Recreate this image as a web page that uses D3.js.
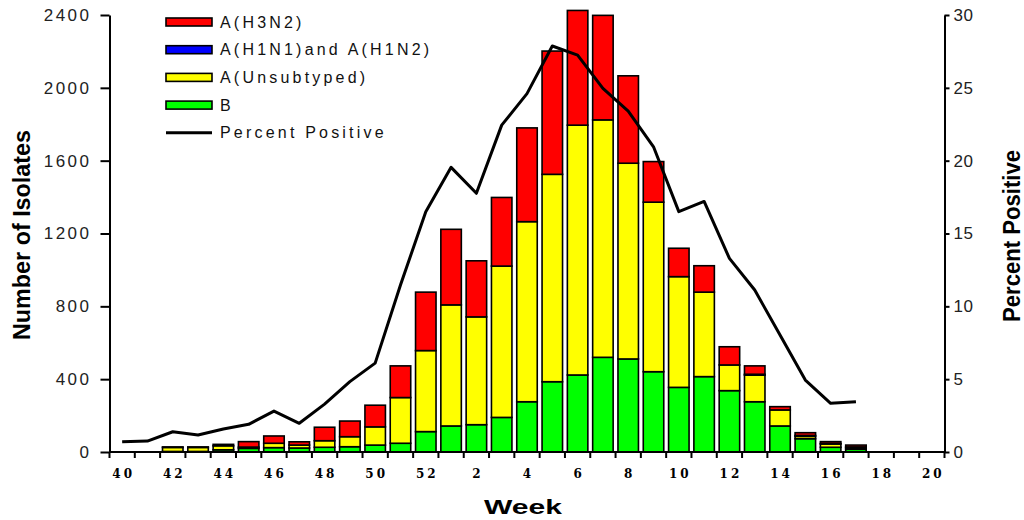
<!DOCTYPE html>
<html>
<head>
<meta charset="utf-8">
<script src="https://cdn.jsdelivr.net/npm/d3@7"></script>
<style>
  body { margin: 0; background: #fff; }
  #chart { width: 1024px; height: 520px; }
</style>
</head>
<body>
<div id="chart"></div>
<script>
// Weekly isolates by type + percent positive

const weeks = [40, 41, 42, 43, 44, 45, 46, 47, 48, 49, 50, 51, 52,
               1, 2, 3, 4, 5, 6, 7, 8, 9, 10, 11, 12, 13, 14, 15, 16, 17, 18, 19, 20];

const h3n2 =    [0, 0, 3, 3, 8, 30, 40, 18, 74, 86, 119, 174, 321,
                 415, 308, 377, 515, 677, 630, 574, 480, 223, 156, 145, 100, 46, 18, 15, 10, 10, 0, 0, 0];
const h1n1 =    [0, 0, 0, 0, 0, 0, 0, 0, 0, 0, 0, 0, 0,
                 0, 0, 0, 0, 0, 0, 0, 0, 0, 0, 0, 0, 5, 0, 5, 3, 5, 0, 0, 0];
const unsub =   [0, 0, 22, 22, 22, 7, 24, 16, 36, 55, 100, 251, 445,
                 665, 592, 831, 989, 1139, 1372, 1304, 1075, 931, 608, 464, 141, 146, 88, 13, 18, 8, 0, 0, 0];
const typeB =   [0, 0, 3, 3, 12, 20, 24, 22, 26, 29, 38, 48, 112,
                 143, 150, 190, 276, 386, 423, 520, 511, 441, 355, 414, 337, 276, 143, 73, 26, 15, 0, 0, 0];
const pctPositive = [0.7, 0.75, 1.39, 1.17, 1.58, 1.9, 2.81, 1.97, 3.29, 4.83, 6.1, 11.46, 16.5,
                 19.54, 17.76, 22.44, 24.6, 27.87, 27.25, 24.96, 23.4, 20.95, 16.5, 17.2, 13.29, 11.12, 8.03, 4.94, 3.34, 3.45, null, null, null];

const leftTicks = [0, 400, 800, 1200, 1600, 2000, 2400];
const rightTicks = [0, 5, 10, 15, 20, 25, 30];

const seriesNames = ["B", "A(Unsubtyped)", "A(H1N1) and A(H1N2)", "A(H3N2)"];
const seriesColors = ["#00ff00", "#ffff00", "#0000ff", "#ff0000"];

const rows = weeks.map((w, i) => ({
    key: i,
    week: w,
    "B": typeB[i],
    "A(Unsubtyped)": unsub[i],
    "A(H1N1) and A(H1N2)": h1n1[i],
    "A(H3N2)": h3n2[i]
}));

const plotLeft = 109.5, plotRight = 944.5, plotTop = 15, plotBottom = 452;

const svg = d3.select("#chart").append("svg")
    .attr("width", 1024)
    .attr("height", 520)
    .style("font-family", "Liberation Sans, Arial, sans-serif");

const x = d3.scaleBand()
    .domain(weeks.map((w, i) => i))
    .range([plotLeft, plotRight])
    .paddingInner(0.19)
    .paddingOuter(0.095);

const y = d3.scaleLinear().domain([0, 2400]).range([plotBottom, plotTop]);
const y2 = d3.scaleLinear().domain([0, 30]).range([plotBottom, plotTop]);

const color = d3.scaleOrdinal().domain(seriesNames).range(seriesColors);

const stacked = d3.stack().keys(seriesNames)(rows);

// bars
svg.append("g")
  .selectAll("g")
  .data(stacked)
  .join("g")
    .attr("fill", d => color(d.key))
  .selectAll("rect")
  .data(d => d.filter(p => p[1] - p[0] > 0))
  .join("rect")
    .attr("x", d => x(d.data.key))
    .attr("width", x.bandwidth())
    .attr("y", d => y(d[1]))
    .attr("height", d => y(d[0]) - y(d[1]))
    .attr("stroke", "#000")
    .attr("stroke-width", 1.6);

// percent positive line
const line = d3.line()
    .defined(d => d != null)
    .x((d, i) => x(i) + x.bandwidth() / 2)
    .y(d => y2(d));

svg.append("path")
    .datum(pctPositive)
    .attr("fill", "none")
    .attr("stroke", "#000")
    .attr("stroke-width", 3)
    .attr("stroke-linejoin", "round")
    .attr("d", line);

// left axis
const yAxis = svg.append("g")
    .attr("transform", `translate(${plotLeft},0)`)
    .call(d3.axisLeft(y).tickValues(leftTicks).tickFormat(d3.format("d"))
        .tickSize(9).tickPadding(9).tickSizeOuter(0));
yAxis.select(".domain").attr("stroke-width", 2);
yAxis.selectAll(".tick line").attr("stroke-width", 2);
yAxis.selectAll("text")
    .style("font-size", "17px")
    .style("letter-spacing", "2.5px")
    .attr("fill", "#222");

// right axis
const y2Axis = svg.append("g")
    .attr("transform", `translate(${plotRight},0)`)
    .call(d3.axisRight(y2).tickValues(rightTicks).tickSize(5).tickPadding(4).tickSizeOuter(0));
y2Axis.select(".domain").attr("stroke-width", 2);
y2Axis.selectAll(".tick line").attr("stroke-width", 2);
y2Axis.selectAll("text")
    .style("font-size", "17px")
    .style("letter-spacing", "0.5px")
    .attr("fill", "#222");

// bottom axis: tick at every band boundary, label every other week
svg.append("line")
    .attr("x1", plotLeft).attr("x2", plotRight)
    .attr("y1", plotBottom).attr("y2", plotBottom)
    .attr("stroke", "#000").attr("stroke-width", 2);

const bounds = d3.range(weeks.length + 1).map(i => plotLeft + i * (plotRight - plotLeft) / weeks.length);
svg.append("g")
  .selectAll("line")
  .data(bounds)
  .join("line")
    .attr("x1", d => d).attr("x2", d => d)
    .attr("y1", plotBottom).attr("y2", plotBottom + 6)
    .attr("stroke", "#000").attr("stroke-width", 2);

svg.append("g")
  .selectAll("text")
  .data(rows.filter((r, i) => i % 2 === 0))
  .join("text")
    .attr("x", d => x(d.key) + x.bandwidth() / 2 + 1.5)
    .attr("y", 478)
    .attr("text-anchor", "middle")
    .style("font-family", "DejaVu Serif, serif")
    .style("font-weight", "bold")
    .style("font-size", "12px")
    .style("letter-spacing", "3px")
    .text(d => d.week);

// axis titles
svg.append("text")
    .attr("transform", "translate(30,235) rotate(-90)")
    .attr("text-anchor", "middle")
    .attr("textLength", 210)
    .attr("lengthAdjust", "spacingAndGlyphs")
    .style("font-size", "23px")
    .style("font-weight", "bold")
    .text("Number of Isolates");

svg.append("text")
    .attr("transform", "translate(1020,236) rotate(-90)")
    .attr("text-anchor", "middle")
    .attr("textLength", 172)
    .attr("lengthAdjust", "spacingAndGlyphs")
    .style("font-size", "23px")
    .style("font-weight", "bold")
    .text("Percent Positive");

svg.append("text")
    .attr("x", 523)
    .attr("y", 514)
    .attr("text-anchor", "middle")
    .attr("textLength", 78)
    .attr("lengthAdjust", "spacingAndGlyphs")
    .style("font-size", "21px")
    .style("font-weight", "bold")
    .text("Week");

// legend
const legendItems = ["A(H3N2)", "A(H1N1) and A(H1N2)", "A(Unsubtyped)", "B"];
const legendColors = ["#ff0000", "#0000ff", "#ffff00", "#00ff00"];
const legend = svg.append("g").attr("transform", "translate(166,22)");

legend.selectAll("rect")
  .data(legendItems)
  .join("rect")
    .attr("x", 0)
    .attr("y", (d, i) => i * 27.7 - 4)
    .attr("width", 46)
    .attr("height", 8)
    .attr("fill", (d, i) => legendColors[i])
    .attr("stroke", "#000")
    .attr("stroke-width", 1.6);

legend.append("line")
    .attr("x1", 0).attr("x2", 46)
    .attr("y1", 4 * 27.7).attr("y2", 4 * 27.7)
    .attr("stroke", "#000").attr("stroke-width", 3);

legend.selectAll("text")
  .data([...legendItems.map(d => d.replace(" and ", "and ")), "Percent Positive"])
  .join("text")
    .attr("x", 54)
    .attr("y", (d, i) => i * 27.7)
    .attr("dy", "0.35em")
    .style("font-size", "16px")
    .style("letter-spacing", "3.2px")
    .attr("fill", "#111")
    .text(d => d);
</script>
</body>
</html>
